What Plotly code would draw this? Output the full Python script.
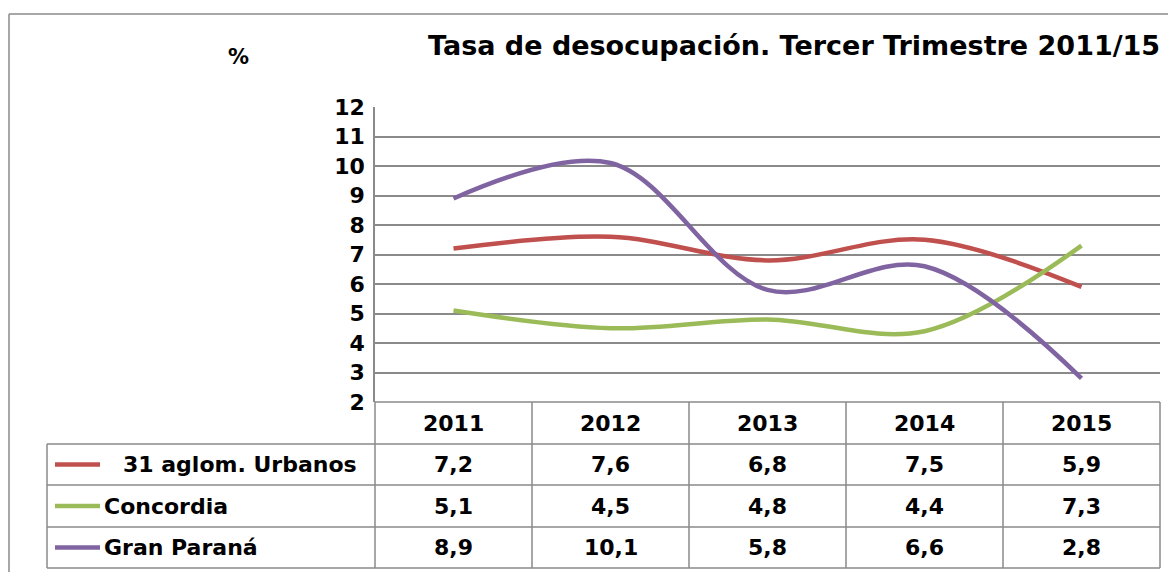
import plotly.graph_objects as go

# Data
years = ["2011", "2012", "2013", "2014", "2015"]
series_names = ["31 aglom. Urbanos", "Concordia", "Gran Paraná"]
aglom_urbanos = [7.2, 7.6, 6.8, 7.5, 5.9]
concordia = [5.1, 4.5, 4.8, 4.4, 7.3]
gran_parana = [8.9, 10.1, 5.8, 6.6, 2.8]
y_ticks = [2, 3, 4, 5, 6, 7, 8, 9, 10, 11, 12]

series = [aglom_urbanos, concordia, gran_parana]
colors = ["#C0504D", "#9BBB59", "#8064A2"]

FONT = "DejaVu Sans"
GRID = "#8A8A8A"
OFF = 8  # page body margin
W, H = 1168, 564
# plot area in page pixels
PL, PR, PT, PB = 375, 1160, 107, 402
L, T = PL - OFF, PT - OFF
R, B = W - (PR - OFF), H - (PB - OFF)
pw, ph = PR - PL, PB - PT


def px_x(p):
    # page pixel -> paper x
    return (p - PL) / pw


def px_y(p):
    # page pixel -> paper y
    return (PB - p) / ph


fig = go.Figure()
xs = list(range(len(years)))
for name, vals, c in zip(series_names, series, colors):
    fig.add_trace(go.Scatter(
        x=xs, y=vals, name=name, mode="lines",
        line=dict(color=c, width=4.5, shape="spline", smoothing=1),
        showlegend=False,
    ))

shapes = []
line = dict(color=GRID, width=1.5)

# outer chart border (left + top)
shapes.append(dict(type="line", xref="paper", yref="paper",
                   x0=px_x(9), x1=px_x(9), y0=px_y(14), y1=px_y(600), line=line))
shapes.append(dict(type="line", xref="paper", yref="paper",
                   x0=px_x(9), x1=px_x(1190), y0=px_y(14), y1=px_y(14), line=line))

# data table grid
row_edges = [402, 444, 485, 527, 568]
row_centers = [(a + b) / 2 for a, b in zip(row_edges[:-1], row_edges[1:])]
n = len(years)
for i in range(n + 1):
    shapes.append(dict(type="line", xref="paper", yref="paper",
                       x0=i / n, x1=i / n, y0=px_y(402), y1=px_y(568), line=line))
shapes.append(dict(type="line", xref="paper", yref="paper",
                   x0=0, x1=1, y0=0, y1=0, line=line))
for r in row_edges[1:]:
    shapes.append(dict(type="line", xref="paper", yref="paper",
                       x0=px_x(47), x1=1, y0=px_y(r), y1=px_y(r), line=line))
shapes.append(dict(type="line", xref="paper", yref="paper",
                   x0=px_x(47), x1=px_x(47), y0=px_y(444), y1=px_y(568), line=line))

annotations = []
cell_font = dict(family=FONT, size=22, color="black")
for i, yr in enumerate(years):
    annotations.append(dict(x=i, xref="x", y=px_y(row_centers[0]), yref="paper",
                            xanchor="center", yanchor="middle",
                            text="<b>%s</b>" % yr, showarrow=False, font=cell_font))
for j, (name, vals, c) in enumerate(zip(series_names, series, colors)):
    yc = px_y(row_centers[j + 1])
    for i, v in enumerate(vals):
        annotations.append(dict(x=i, xref="x", y=yc, yref="paper",
                                xanchor="center", yanchor="middle",
                                text="<b>%s</b>" % f"{v:.1f}".replace(".", ","),
                                showarrow=False, font=cell_font))
    shapes.append(dict(type="line", xref="paper", yref="paper",
                       x0=px_x(55), x1=px_x(100), y0=yc, y1=yc,
                       line=dict(color=c, width=4.5)))
    annotations.append(dict(x=px_x(102 if j else 121), xref="paper", y=yc, yref="paper",
                            xanchor="left", yanchor="middle", text="<b>%s</b>" % name,
                            showarrow=False, font=cell_font))

# title and unit
annotations.append(dict(x=px_x(426), xref="paper", y=px_y(46), yref="paper",
                        xanchor="left", yanchor="middle",
                        text="<b>Tasa de desocupación. Tercer Trimestre 2011/15</b>",
                        showarrow=False, font=dict(family=FONT, size=27, color="black")))
annotations.append(dict(x=px_x(238), xref="paper", y=px_y(57), yref="paper",
                        xanchor="center", yanchor="middle",
                        text="<b>%</b>", showarrow=False,
                        font=dict(family=FONT, size=21, color="black")))

fig.update_layout(
    width=W, height=H,
    margin=dict(l=L, r=R, t=T, b=B),
    paper_bgcolor="white", plot_bgcolor="white",
    shapes=shapes, annotations=annotations,
    xaxis=dict(range=[-0.5, n - 0.5], showticklabels=False, showgrid=False,
               zeroline=False, showline=False, fixedrange=True),
    yaxis=dict(range=[2, 12], tickvals=y_ticks,
               ticktext=["<b>%d</b>" % t for t in y_ticks],
               showgrid=True, gridcolor=GRID, gridwidth=1.5,
               showline=True, linecolor=GRID, linewidth=1.5,
               zeroline=False, ticks="", ticklabelstandoff=4,
               tickfont=dict(family=FONT, size=22, color="black")),
)

fig.write_html("out.html")
